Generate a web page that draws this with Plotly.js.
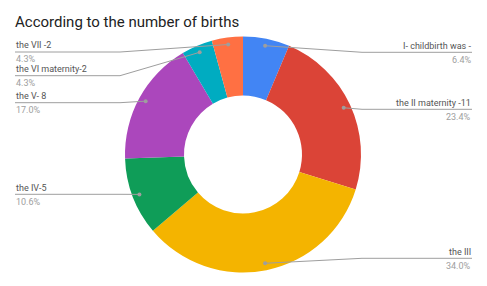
<!DOCTYPE html>
<html>
<head>
<meta charset="utf-8">
<script src="https://cdn.plot.ly/plotly-3.0.1.min.js"></script>
<style>html,body{margin:0;padding:0;background:#fff;}#chart{width:487px;height:286px;}</style>
</head>
<body>
<div id="chart"></div>
<script>
// ---- data ----
var labels = ["I- childbirth was -", "the II maternity -11", "the III", "the IV-5", "the V- 8", "the VI maternity-2", "the VII -2"];
var values = [3, 11, 16, 5, 8, 2, 2];
var colors = ["#4285F4", "#DB4437", "#F4B400", "#0F9D58", "#AB47BC", "#00ACC1", "#FF7043"];
var titleText = "According to the number of births";

// ---- layout config (pixels) ----
var W = 487, H = 286;
var cx = 243, cy = 154.5, R = 118, dotR = 111;
var labelSide = ["right", "right", "right", "left", "left", "left", "left"];
var labelLineY = [52.3, 109.3, 258.3, 194.3, 102.7, 75.7, 52.0];
var leftX = 15, rightX = 472, leftBend = 120, rightBend = 362;

function px(x) { return x / W; }
function py(y) { return 1 - y / H; }

var total = values.reduce(function (a, b) { return a + b; }, 0);
var shapes = [], annotations = [];
var cum = 0;
values.forEach(function (v, i) {
  var th = (cum + v / 2) / total * 2 * Math.PI;
  cum += v;
  var dx = cx + dotR * Math.sin(th), dy = cy - dotR * Math.cos(th);
  var ly = labelLineY[i];
  var lineStyle = { color: "#9e9e9e", width: 1 };
  var endX = labelSide[i] === "left" ? leftX : rightX;
  var bendX = labelSide[i] === "left" ? leftBend : rightBend;
  shapes.push({ type: "line", xref: "paper", yref: "paper", x0: px(endX), y0: py(ly), x1: px(bendX), y1: py(ly), line: lineStyle });
  shapes.push({ type: "line", xref: "paper", yref: "paper", x0: px(bendX), y0: py(ly), x1: px(dx), y1: py(dy), line: lineStyle });
  shapes.push({ type: "circle", xref: "paper", yref: "paper", x0: px(dx - 2), x1: px(dx + 2), y0: py(dy + 2), y1: py(dy - 2), fillcolor: "#9e9e9e", line: { width: 0 } });
  var pct = (v / total * 100).toFixed(1) + "%";
  annotations.push({ xref: "paper", yref: "paper", x: px(endX), y: py(ly - 6.5), xanchor: labelSide[i], yanchor: "middle", showarrow: false, text: labels[i], font: { family: "Roboto", size: 9, color: "#555555" }, borderpad: 0 });
  annotations.push({ xref: "paper", yref: "paper", x: px(endX), y: py(ly + 7.3), xanchor: labelSide[i], yanchor: "middle", showarrow: false, text: pct, font: { family: "Roboto", size: 9, color: "#9e9e9e" }, borderpad: 0 });
});

var trace = {
  type: "pie",
  labels: labels,
  values: values,
  sort: false,
  direction: "clockwise",
  rotation: 0,
  hole: 0.5,
  textinfo: "none",
  hoverinfo: "none",
  marker: { colors: colors, line: { width: 0 } },
  domain: { x: [(cx - R) / W, (cx + R) / W], y: [1 - (cy + R) / H, 1 - (cy - R) / H] }
};

var layout = {
  width: W, height: H,
  margin: { l: 0, r: 0, t: 0, b: 0 },
  paper_bgcolor: "#ffffff",
  showlegend: false,
  title: { text: titleText, x: 15 / W, xanchor: "left", y: 1 - 22 / H, yanchor: "middle", font: { family: "Roboto", size: 15, color: "#222222" } },
  shapes: shapes,
  annotations: annotations
};

Plotly.newPlot("chart", [trace], layout, { displayModeBar: false, staticPlot: true });
</script>
</body>
</html>
